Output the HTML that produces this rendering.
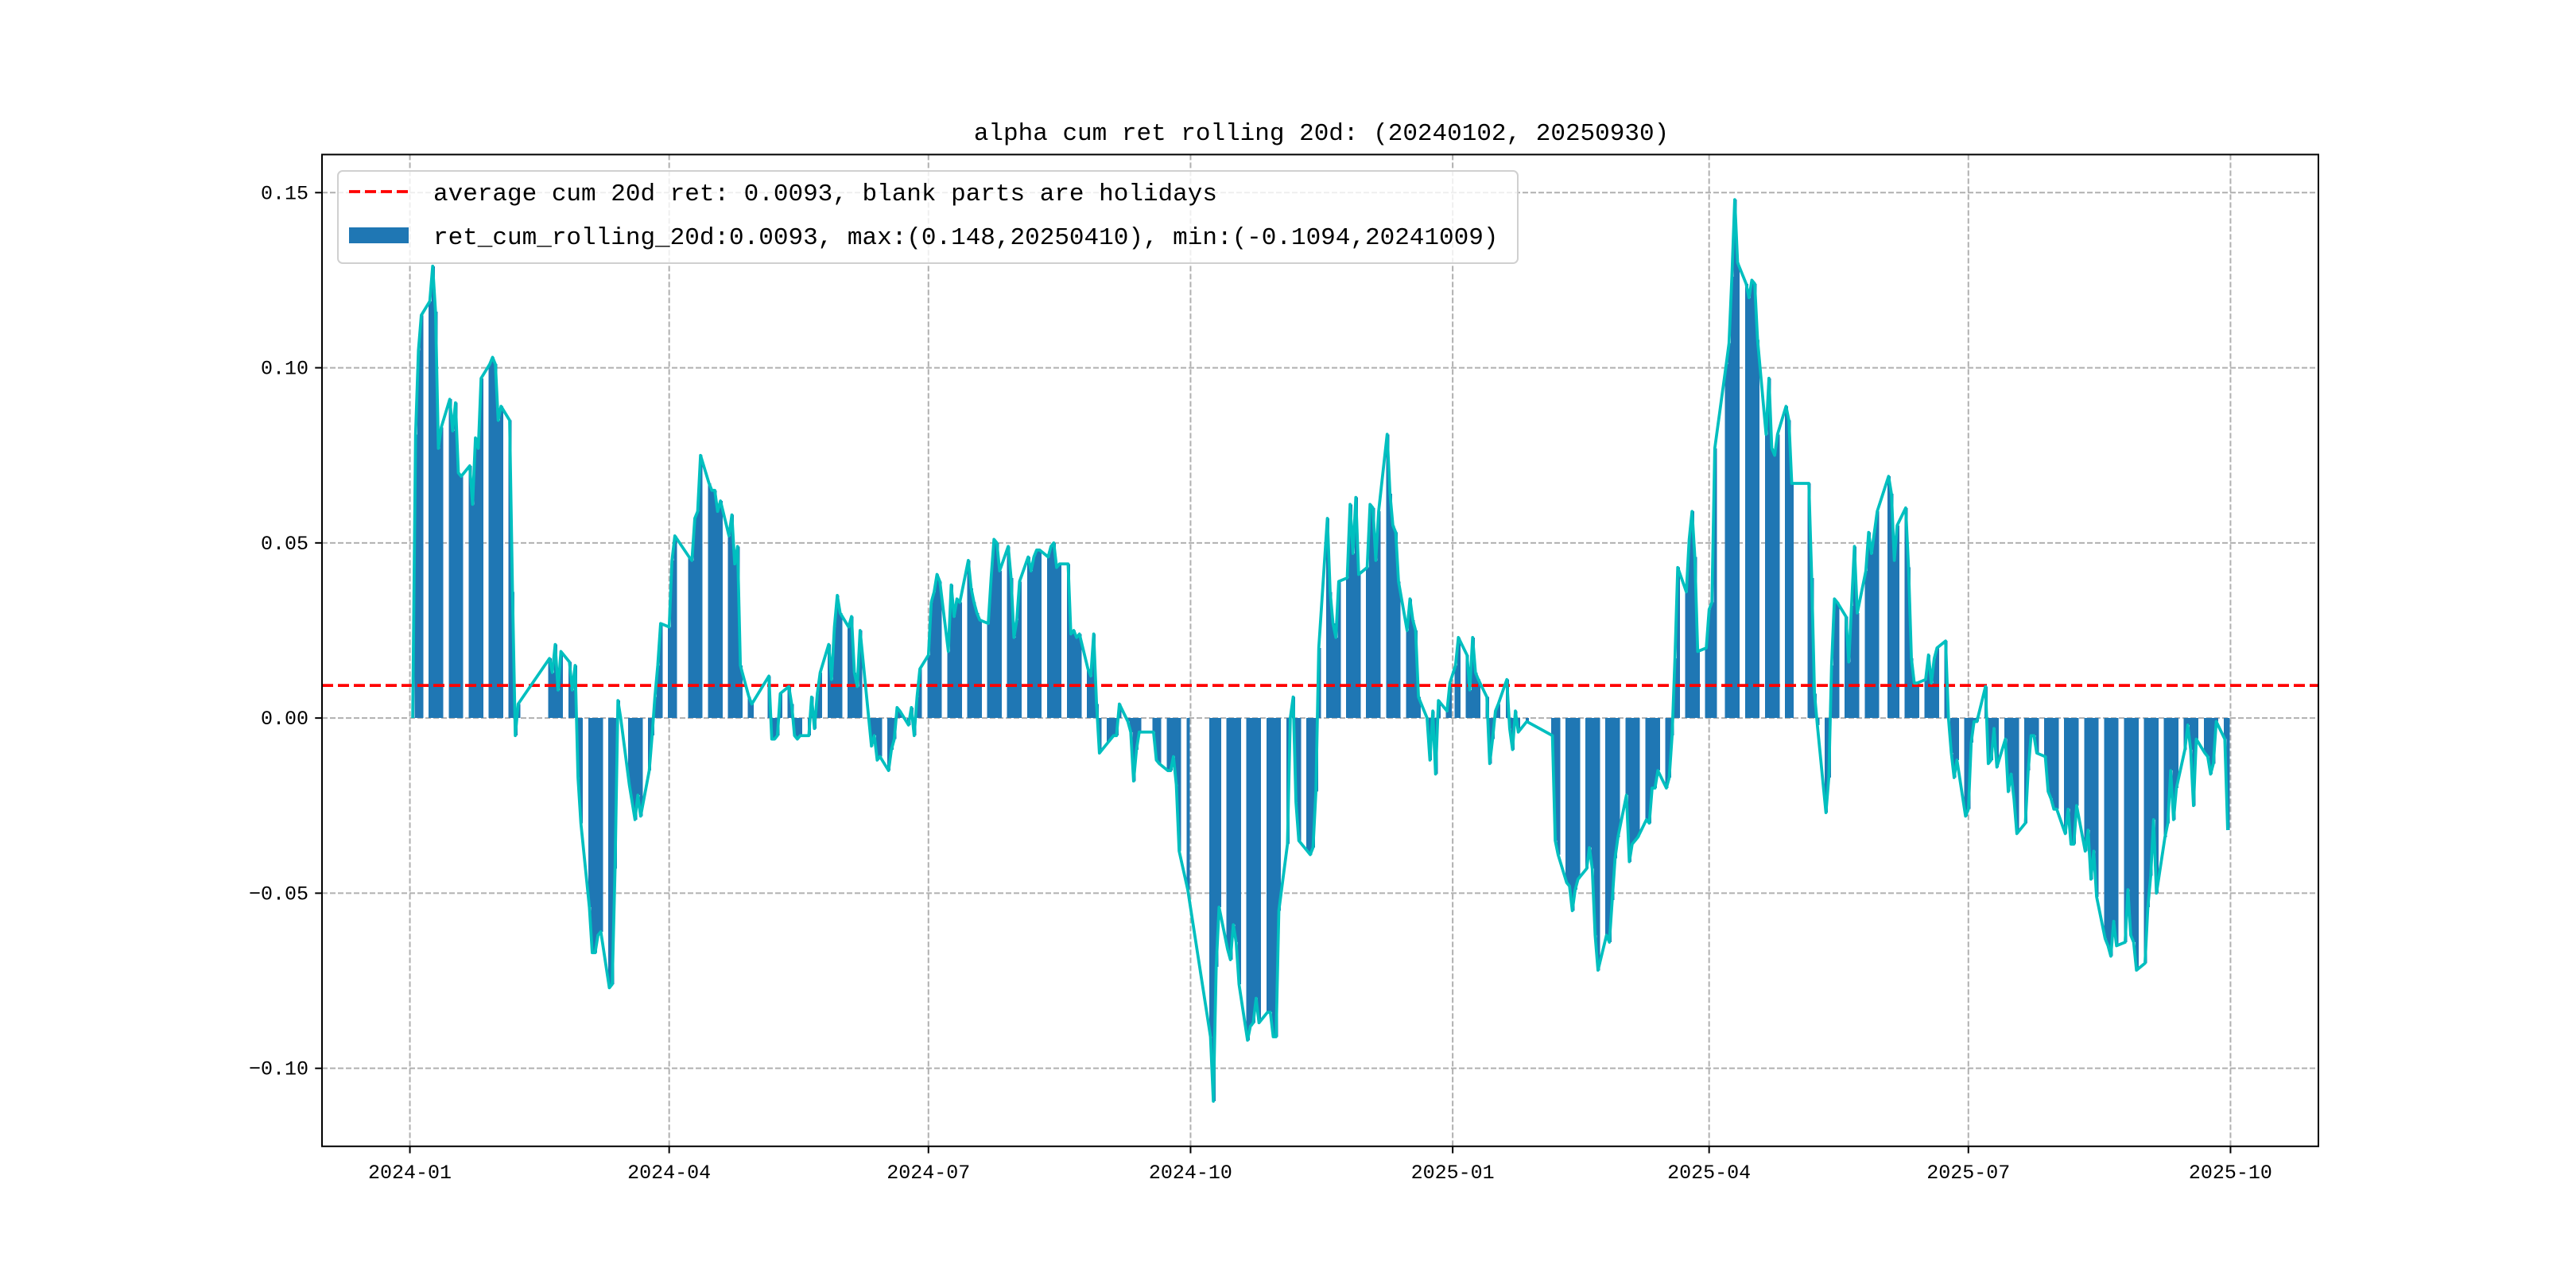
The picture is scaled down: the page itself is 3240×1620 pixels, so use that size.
<!DOCTYPE html>
<html><head><meta charset="utf-8">
<style>
html,body{margin:0;padding:0;background:#fff;}
svg{display:block;}
text{font-family:"Liberation Mono","Noto Sans CJK SC",monospace;fill:#000;}
</style></head>
<body>
<svg id="chart" width="3240" height="1620" viewBox="0 0 3240 1620" xmlns="http://www.w3.org/2000/svg">
  <rect x="0" y="0" width="3240" height="1620" fill="#fff"/>
  <text x="1662" y="176" font-size="31" text-anchor="middle">alpha cum ret rolling 20d: (20240102, 20250930)</text>
  <g id="grid"></g>
  <g id="bars" shape-rendering="crispEdges"></g>
  <g id="avgline"></g>
  <g id="line"></g>
  <rect x="405" y="194.4" width="2511" height="1247.4" fill="none" stroke="#000" stroke-width="2"/>
  <g id="xticks"></g>
  <g id="yticks"></g>
  <g>
    <rect x="425" y="215" width="1484" height="116" rx="6" fill="#fff" fill-opacity="0.8" stroke="#d0d0d0" stroke-width="2"/>
    <line x1="439" y1="241" x2="514" y2="241" stroke="#ff0000" stroke-width="3.75" stroke-dasharray="14,6"/>
    <text x="545" y="252" font-size="31">average cum 20d ret: 0.0093, blank parts are holidays</text>
    <rect x="439" y="286" width="75" height="20" fill="#1f77b4"/>
    <text x="545" y="307" font-size="31">ret_cum_rolling_20d:0.0093, max:(0.148,20250410), min:(-0.1094,20241009)</text>
  </g>
</svg>
<script>
var avgValue = 0.0093;
var yTickValues = [-0.10, -0.05, 0.00, 0.05, 0.10, 0.15];
var yTickLabels = ["\u22120.10", "\u22120.05", "0.00", "0.05", "0.10", "0.15"];
var xTickDates = ["2024-01-01","2024-04-01","2024-07-01","2024-10-01","2025-01-01","2025-04-01","2025-07-01","2025-10-01"];
var xTickLabels = ["2024-01","2024-04","2024-07","2024-10","2025-01","2025-04","2025-07","2025-10"];
var segStarts = ["2024-01-02","2024-01-08","2024-01-15","2024-01-22","2024-01-29","2024-02-05","2024-02-19","2024-02-26","2024-03-04","2024-03-11","2024-03-18","2024-03-25","2024-04-01","2024-04-08","2024-04-15","2024-04-22","2024-04-29","2024-05-06","2024-05-13","2024-05-20","2024-05-27","2024-06-03","2024-06-11","2024-06-17","2024-06-24","2024-07-01","2024-07-08","2024-07-15","2024-07-22","2024-07-29","2024-08-05","2024-08-12","2024-08-19","2024-08-26","2024-09-02","2024-09-09","2024-09-18","2024-09-23","2024-09-30","2024-10-08","2024-10-14","2024-10-21","2024-10-28","2024-11-04","2024-11-11","2024-11-18","2024-11-25","2024-12-02","2024-12-09","2024-12-16","2024-12-23","2024-12-30","2025-01-02","2025-01-06","2025-01-13","2025-01-20","2025-01-27","2025-02-05","2025-02-10","2025-02-17","2025-02-24","2025-03-03","2025-03-10","2025-03-17","2025-03-24","2025-03-31","2025-04-07","2025-04-14","2025-04-21","2025-04-28","2025-05-06","2025-05-12","2025-05-19","2025-05-26","2025-06-03","2025-06-09","2025-06-16","2025-06-23","2025-06-30","2025-07-07","2025-07-14","2025-07-21","2025-07-28","2025-08-04","2025-08-11","2025-08-18","2025-08-25","2025-09-01","2025-09-08","2025-09-15","2025-09-22","2025-09-29"];
var segValues = [
[0,0.081,0.105,0.115],
[0.119,0.129,0.116,0.077,0.083],
[0.091,0.082,0.090,0.070,0.069],
[0.072,0.061,0.080,0.077,0.097],
[0.101,0.103,0.101,0.085,0.089],
[0.085,0.036,-0.005,0.004],
[0.017,0.013,0.021,0.008,0.019],
[0.016,0.008,0.015,-0.017,-0.030],
[-0.054,-0.067,-0.067,-0.062,-0.061],
[-0.077,-0.076,-0.043,0.005,0.000],
[-0.019,-0.024,-0.029,-0.022,-0.028],
[-0.015,-0.005,0.006,0.015,0.027],
[0.026,0.045,0.052],
[0.046,0.045,0.057,0.059,0.075],
[0.067,0.065,0.065,0.059,0.062],
[0.052,0.058,0.044,0.049,0.015],
[0.006,0.004],
[0.012,-0.006,-0.006,-0.005,0.007],
[0.009,0.004,-0.005,-0.006,-0.005],
[-0.005,0.006,-0.003,0.007,0.013],
[0.021,0.011,0.026,0.035,0.030],
[0.026,0.029,0.013,0.009,0.025],
[-0.008,-0.005,-0.012,-0.011],
[-0.015,-0.009,-0.006,0.003,0.002],
[-0.002,0.003,-0.005,0.006,0.014],
[0.018,0.033,0.036,0.041,0.039],
[0.019,0.038,0.029,0.034,0.033],
[0.045,0.037,0.033,0.030,0.028],
[0.027,0.040,0.051,0.050,0.042],
[0.049,0.040,0.023,0.028,0.039],
[0.046,0.042,0.046,0.048,0.048],
[0.046,0.049,0.050,0.043,0.044],
[0.044,0.024,0.025,0.023,0.024],
[0.014,0.012,0.024,0.004,-0.010],
[-0.007,-0.006,-0.005,-0.005,0.004],
[-0.001,-0.004,-0.018,-0.009,-0.004],
[-0.004,-0.012,-0.013],
[-0.015,-0.015,-0.011,-0.019,-0.038],
[-0.049],
[-0.091,-0.1094,-0.071,-0.054],
[-0.066,-0.069,-0.059,-0.064,-0.076],
[-0.092,-0.088,-0.087,-0.080,-0.087],
[-0.084,-0.084,-0.091,-0.091,-0.055],
[-0.036,0.000,0.006,-0.024,-0.035],
[-0.038,-0.039,-0.037,-0.021,0.020],
[0.057,0.036,0.027,0.023,0.039],
[0.040,0.061,0.047,0.063,0.041],
[0.043,0.061,0.060,0.045,0.059],
[0.081,0.064,0.055,0.053,0.039],
[0.025,0.034,0.028,0.025,0.006],
[0.000,-0.012,0.002,-0.016,0.005],
[0.002,0.010],
[0.015,0.023],
[0.018,0.008,0.023,0.013,0.011],
[0.006,-0.013,-0.006,0.002,0.004],
[0.011,-0.003,-0.009,0.002,-0.004],
[-0.001],
[-0.005,-0.035,-0.039],
[-0.047,-0.048,-0.055,-0.049,-0.046],
[-0.043,-0.037,-0.043,-0.062,-0.072],
[-0.062,-0.064,-0.052,-0.040,-0.034],
[-0.022,-0.041,-0.036,-0.035,-0.034],
[-0.029,-0.030,-0.020,-0.020,-0.015],
[-0.020,-0.017,-0.005,0.017,0.043],
[0.036,0.051,0.059,0.046,0.019],
[0.020,0.031,0.033,0.077],
[0.101,0.107,0.126,0.148,0.130],
[0.124,0.120,0.125,0.124,0.108],
[0.081,0.097,0.077,0.075,0.081],
[0.089,0.085,0.067],
[0.067,0.040,0.007,-0.002],
[-0.027,-0.017,0.015,0.034,0.033],
[0.029,0.016,0.032,0.049,0.030],
[0.042,0.053,0.047,0.053,0.059],
[0.069,0.064,0.045,0.055],
[0.060,0.043,0.017,0.010,0.010],
[0.011,0.018,0.010,0.017,0.020],
[0.022,0.000,-0.010,-0.017,-0.012],
[-0.028,-0.026,-0.007,-0.001,-0.001],
[0.009,-0.013,-0.012,-0.003,-0.014],
[-0.006,-0.021,-0.016,-0.023,-0.033],
[-0.030,-0.015,-0.005,-0.005,-0.010],
[-0.011,-0.021,-0.023,-0.026,-0.026],
[-0.033,-0.026,-0.036,-0.036,-0.025],
[-0.038,-0.032,-0.046,-0.038,-0.051],
[-0.063,-0.065,-0.068,-0.058,-0.065],
[-0.064,-0.049,-0.062,-0.064,-0.072],
[-0.070,-0.054,-0.045,-0.029,-0.050],
[-0.034,-0.030,-0.015,-0.029,-0.020],
[-0.009,-0.002,-0.009,-0.025,-0.006],
[-0.010,-0.011,-0.016,-0.013,-0.001],
[-0.006,-0.032]
];

var NS = "http://www.w3.org/2000/svg";
var PL = 405, PR = 2916, PT = 194.4, PB = 1441.8;
function dayNum(s){ var p = s.split("-"); return Date.UTC(+p[0], +p[1]-1, +p[2]) / 86400000; }

var dates = [], values = [];
for (var i = 0; i < segStarts.length; i++) {
  var d = dayNum(segStarts[i]);
  for (var j = 0; j < segValues[i].length; j++) {
    while (true) { var wd = new Date(d*86400000).getUTCDay(); if (wd === 0 || wd === 6) d++; else break; }
    dates.push(d); values.push(segValues[i][j]); d++;
  }
}
var dMin = Math.min.apply(null, dates), dMax = Math.max.apply(null, dates);
var vMin = Math.min.apply(null, values), vMax = Math.max.apply(null, values);
var xLo = dMin - 0.05*(dMax-dMin), xHi = dMax + 0.05*(dMax-dMin);
var yLo = vMin - 0.05*(vMax-vMin), yHi = vMax + 0.05*(vMax-vMin);
function xScale(d){ return PL + (d - xLo) / (xHi - xLo) * (PR - PL); }
function yScale(v){ return PB - (v - yLo) / (yHi - yLo) * (PB - PT); }
var ppd = (PR-PL)/(xHi-xLo);
function mk(tag, attrs, parent){ var e = document.createElementNS(NS, tag); for (var k in attrs) e.setAttribute(k, attrs[k]); parent.appendChild(e); return e; }

var grid = document.getElementById("grid");
var xt = document.getElementById("xticks");
var yt = document.getElementById("yticks");
for (var i = 0; i < xTickDates.length; i++) {
  var x = xScale(dayNum(xTickDates[i]));
  var g = mk("line", {x1:x, x2:x, y1:PT, y2:PB, stroke:"#b0b0b0", "stroke-width":2, "stroke-dasharray":"7,3"}, grid);
  
  
  var t = mk("line", {x1:x, x2:x, y1:PB, y2:PB+8.75, stroke:"#000", "stroke-width":2}, xt);
  
  
  var lb = mk("text", {x:x, y:PB+40, "font-size":25, "text-anchor":"middle"}, xt);
  lb.textContent = xTickLabels[i];
  
  
}
for (var i = 0; i < yTickValues.length; i++) {
  var y = yScale(yTickValues[i]);
  var g = mk("line", {x1:PL, x2:PR, y1:y, y2:y, stroke:"#b0b0b0", "stroke-width":2, "stroke-dasharray":"7,3"}, grid);
  
  
  var t = mk("line", {x1:PL-8.75, x2:PL, y1:y, y2:y, stroke:"#000", "stroke-width":2}, yt);
  
  
  var lb = mk("text", {x:PL-17, y:y+8, "font-size":25, "text-anchor":"end"}, yt);
  lb.textContent = yTickLabels[i];
  
  
}

var bars = document.getElementById("bars");
var y0 = yScale(0);
for (var i = 0; i < dates.length; i++) {
  var x = xScale(dates[i]) - 0.4*ppd;
  var yv = yScale(values[i]);
  var r = mk("rect", {x:x, y:Math.min(y0,yv), width:0.8*ppd+1.2, height:Math.max(Math.abs(yv-y0),0.01), fill:"#1f77b4"}, bars);
  
  
}

var avg = mk("line", {x1:PL, x2:PR, y1:yScale(avgValue), y2:yScale(avgValue), stroke:"#ff0000", "stroke-width":3.75, "stroke-dasharray":"14,6"}, document.getElementById("avgline"));



var pts = [];
for (var i = 0; i < dates.length; i++) pts.push(xScale(dates[i]).toFixed(1) + "," + yScale(values[i]).toFixed(1));
var pl = mk("polyline", {points:pts.join(" "), fill:"none", stroke:"#00bfbf", "stroke-width":3.75, "stroke-linejoin":"round"}, document.getElementById("line"));


</script>
</body></html>
